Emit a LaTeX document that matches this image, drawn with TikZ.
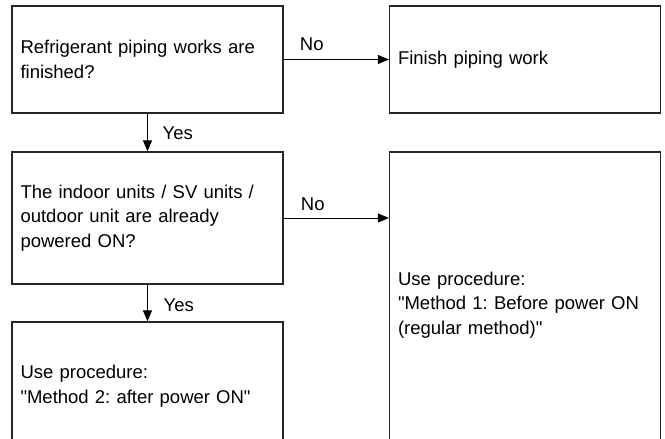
\documentclass[tikz,border=0pt]{standalone}
\usepackage{fontspec}
\setmainfont{Liberation Sans}[Ligatures=TeXOff]
\usetikzlibrary{arrows.meta}

\begin{document}
\begin{tikzpicture}[x=1pt,y=-1pt,
    box/.style={draw=black!85, line width=1.3pt, rectangle, minimum width=271pt,
      text width=254pt, align=left, inner xsep=8.5pt,
      font=\fontsize{18.5pt}{24.5pt}\selectfont\frenchspacing},
    lbl/.style={inner sep=0pt, anchor=base west, font=\fontsize{18.5pt}{24.5pt}\selectfont},
    arr/.style={line width=1pt, -{Triangle[length=11pt,width=9pt]}}]
  \useasboundingbox (0,0) rectangle (665,439);
  \clip (0,0) rectangle (665,439);
  % questions on the left
  \node[box, minimum height=107pt] (piping) at (147.5,59.5) {Refrigerant piping works are\\finished?};
  \node[box, minimum height=132pt] (powered) at (147.5,218) {The indoor units / SV units /\\outdoor unit are already\\powered ON?};
  \node[box, minimum height=128pt] (method2) at (147.5,386) {Use procedure:\\"Method 2: after power ON"};
  % answers on the right
  \node[box, minimum height=107pt] (finish) at (525,59.5) {Finish piping work};
  \node[box, minimum height=306pt] (method1) at (525,305) {Use procedure:\\"Method 1: Before power ON\\(regular method)"};
  % arrows
  \draw[arr] (piping.east) -- node[lbl, pos=0.15, yshift=9.3pt] {No} (finish.west);
  \draw[arr] (piping.south) -- node[lbl, pos=0.69, xshift=14.7pt] {Yes} (powered.north);
  \draw[arr] (powered.east) -- node[lbl, pos=0.16, yshift=8pt] {No} (powered.east -| method1.west);
  \draw[arr] (powered.south) -- node[lbl, pos=0.74, xshift=15.7pt] {Yes} (method2.north);
\end{tikzpicture}
\end{document}
